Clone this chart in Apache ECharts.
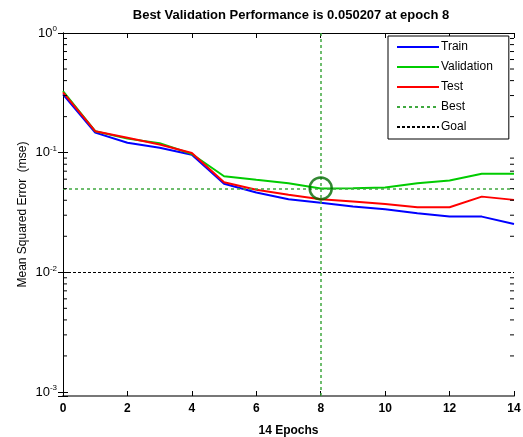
<!DOCTYPE html>
<html>
<head>
<meta charset="utf-8">
<script src="https://cdn.jsdelivr.net/npm/echarts@6/dist/echarts.min.js"></script>
<style>
  html, body { margin: 0; padding: 0; background: #fff; }
  #chart { width: 523px; height: 437px; }
</style>
</head>
<body>
<div id="chart"></div>
<script>
// epochs 0..14
const epochs = [0, 1, 2, 3, 4, 5, 6, 7, 8, 9, 10, 11, 12, 13, 14];
const trainPerf = [0.307, 0.147, 0.121, 0.110, 0.0962, 0.0549, 0.0464, 0.0408, 0.0382, 0.0354, 0.0336, 0.0311, 0.0292, 0.0292, 0.0253];
const valPerf = [0.327, 0.151, 0.131, 0.120, 0.0975, 0.0635, 0.0593, 0.0556, 0.050207, 0.0505, 0.0512, 0.0556, 0.0585, 0.0666, 0.0666];
const testPerf = [0.319, 0.151, 0.133, 0.117, 0.0994, 0.0565, 0.0489, 0.0444, 0.0408, 0.0390, 0.0373, 0.0350, 0.0350, 0.0429, 0.0403];
const bestEpoch = 8;
const bestPerf = 0.050207;
const goal = 0.01;
const legendNames = ["Train", "Validation", "Test", "Best", "Goal"];
const minorDecades = [0.001, 0.01, 0.1];
const minorSteps = [2, 3, 4, 5, 6, 7, 8, 9];

const yMin = 0.000925;
const yMax = 1;

const minorTicks = [];
minorDecades.forEach((d) => {
  minorSteps.forEach((s) => minorTicks.push([0, d * s]));
});

const fontFam = "'Liberation Sans', Arial, sans-serif";

const myChart = echarts.init(document.getElementById("chart"));

const supLabel = function (value) {
  const e = Math.log10(value);
  const r = Math.round(e);
  if (Math.abs(e - r) > 1e-6) return "";
  return "10{s|" + r + "}";
};

const option = {
  animation: false,
  title: {
    text: "Best Validation Performance is " + bestPerf + " at epoch " + bestEpoch,
    left: 286,
    textAlign: "center",
    top: 4,
    textStyle: { fontFamily: fontFam, fontSize: 13, fontWeight: "bold", color: "#000" },
  },
  legend: {
    data: legendNames,
    orient: "vertical",
    left: 388,
    top: 36,
    padding: [5, 16, 6, 8],
    itemGap: 8,
    itemWidth: 42,
    itemHeight: 12,
    borderColor: "#000",
    borderWidth: 1,
    borderRadius: 0,
    backgroundColor: "#fff",
    itemStyle: { opacity: 0 },
    textStyle: { fontFamily: fontFam, fontSize: 12, color: "#000", padding: [0, 0, 0, -3] },
  },
  grid: { left: 63, right: 9, top: 33, bottom: 41, outerBoundsMode: "none" },
  xAxis: [
    {
      type: "value",
      min: 0,
      max: 14,
      interval: 2,
      name: "14 Epochs",
      nameLocation: "middle",
      nameGap: 29,
      nameTextStyle: { fontFamily: fontFam, fontSize: 12, fontWeight: "bold", color: "#000" },
      axisLine: { lineStyle: { color: "#777", width: 2 } },
      axisTick: { inside: true, length: 5, lineStyle: { color: "#000" } },
      axisLabel: { fontFamily: fontFam, fontSize: 12, fontWeight: "bold", color: "#000", margin: 7 },
      splitLine: { show: false },
    },
    {
      type: "value",
      position: "top",
      min: 0,
      max: 14,
      interval: 2,
      axisLine: { lineStyle: { color: "#000", width: 1 } },
      axisTick: { inside: true, length: 5, lineStyle: { color: "#000" } },
      axisLabel: { show: false },
      splitLine: { show: false },
    },
  ],
  yAxis: [
    {
      type: "log",
      logBase: 10,
      min: yMin,
      max: yMax,
      name: "Mean Squared Error  (mse)",
      nameLocation: "middle",
      nameGap: 34,
      nameMoveOverlap: false,
      nameTextStyle: { fontFamily: fontFam, fontSize: 12, color: "#000" },
      axisLine: { lineStyle: { color: "#000", width: 1 } },
      axisTick: { inside: true, length: 5, lineStyle: { color: "#000" } },
      axisLabel: {
        formatter: supLabel,
        fontFamily: fontFam,
        fontSize: 13,
        color: "#000",
        margin: 6,
        rich: { s: { fontFamily: fontFam, fontSize: 8, color: "#000", verticalAlign: "top", padding: [0, 0, 8, 0] } },
      },
      splitLine: { show: false },
    },
    {
      type: "log",
      logBase: 10,
      min: yMin,
      max: yMax,
      position: "right",
      axisLine: { lineStyle: { color: "#000", width: 1 } },
      axisTick: { inside: true, length: 5, lineStyle: { color: "#000" } },
      axisLabel: { show: false },
      splitLine: { show: false },
    },
  ],
  series: [
    {
      name: "Minor",
      type: "custom",
      silent: true,
      clip: false,
      z: 10,
      data: minorTicks,
      renderItem: function (params, api) {
        const l = api.coord([0, api.value(1)]);
        const r = api.coord([14, api.value(1)]);
        const st = { stroke: "#000", lineWidth: 1 };
        return {
          type: "group",
          children: [
            { type: "line", shape: { x1: l[0], y1: l[1], x2: l[0] + 4, y2: l[1] }, style: st },
            { type: "line", shape: { x1: r[0], y1: r[1], x2: r[0] - 4, y2: r[1] }, style: st },
          ],
        };
      },
    },
    {
      name: "Goal",
      type: "line",
      symbol: "none",
      data: [],
      lineStyle: { color: "#000", width: 1, type: [3, 2] },
      itemStyle: { color: "#000" },
      markLine: {
        silent: true,
        symbol: "none",
        label: { show: false },
        lineStyle: { color: "#000", width: 1, type: [3, 2] },
        data: [{ yAxis: goal }],
      },
    },
    {
      name: "Best",
      type: "line",
      symbol: "none",
      data: [],
      lineStyle: { color: "#3fa83f", width: 2, type: [3, 3] },
      itemStyle: { color: "#3fa83f" },
      markLine: {
        silent: true,
        symbol: "none",
        label: { show: false },
        lineStyle: { color: "#3fa83f", width: 1.5, type: [3, 3] },
        data: [{ yAxis: bestPerf }, { xAxis: bestEpoch }],
      },
    },
    {
      name: "Train",
      type: "line",
      symbol: "none",
      data: epochs.map((e, i) => [e, trainPerf[i]]),
      lineStyle: { color: "#0000ff", width: 2 },
      itemStyle: { color: "#0000ff" },
    },
    {
      name: "Validation",
      type: "line",
      symbol: "none",
      data: epochs.map((e, i) => [e, valPerf[i]]),
      lineStyle: { color: "#00cc00", width: 2 },
      itemStyle: { color: "#00cc00" },
    },
    {
      name: "Test",
      type: "line",
      symbol: "none",
      data: epochs.map((e, i) => [e, testPerf[i]]),
      lineStyle: { color: "#ff0000", width: 2 },
      itemStyle: { color: "#ff0000" },
    },
    {
      name: "BestPoint",
      type: "scatter",
      symbol: "circle",
      symbolSize: 22,
      data: [[bestEpoch, bestPerf]],
      itemStyle: { color: "rgba(0,0,0,0)", borderColor: "#006a00", borderWidth: 2.5 },
      z: 5,
    },
  ],
};
myChart.setOption(option);
</script>
</body>
</html>
